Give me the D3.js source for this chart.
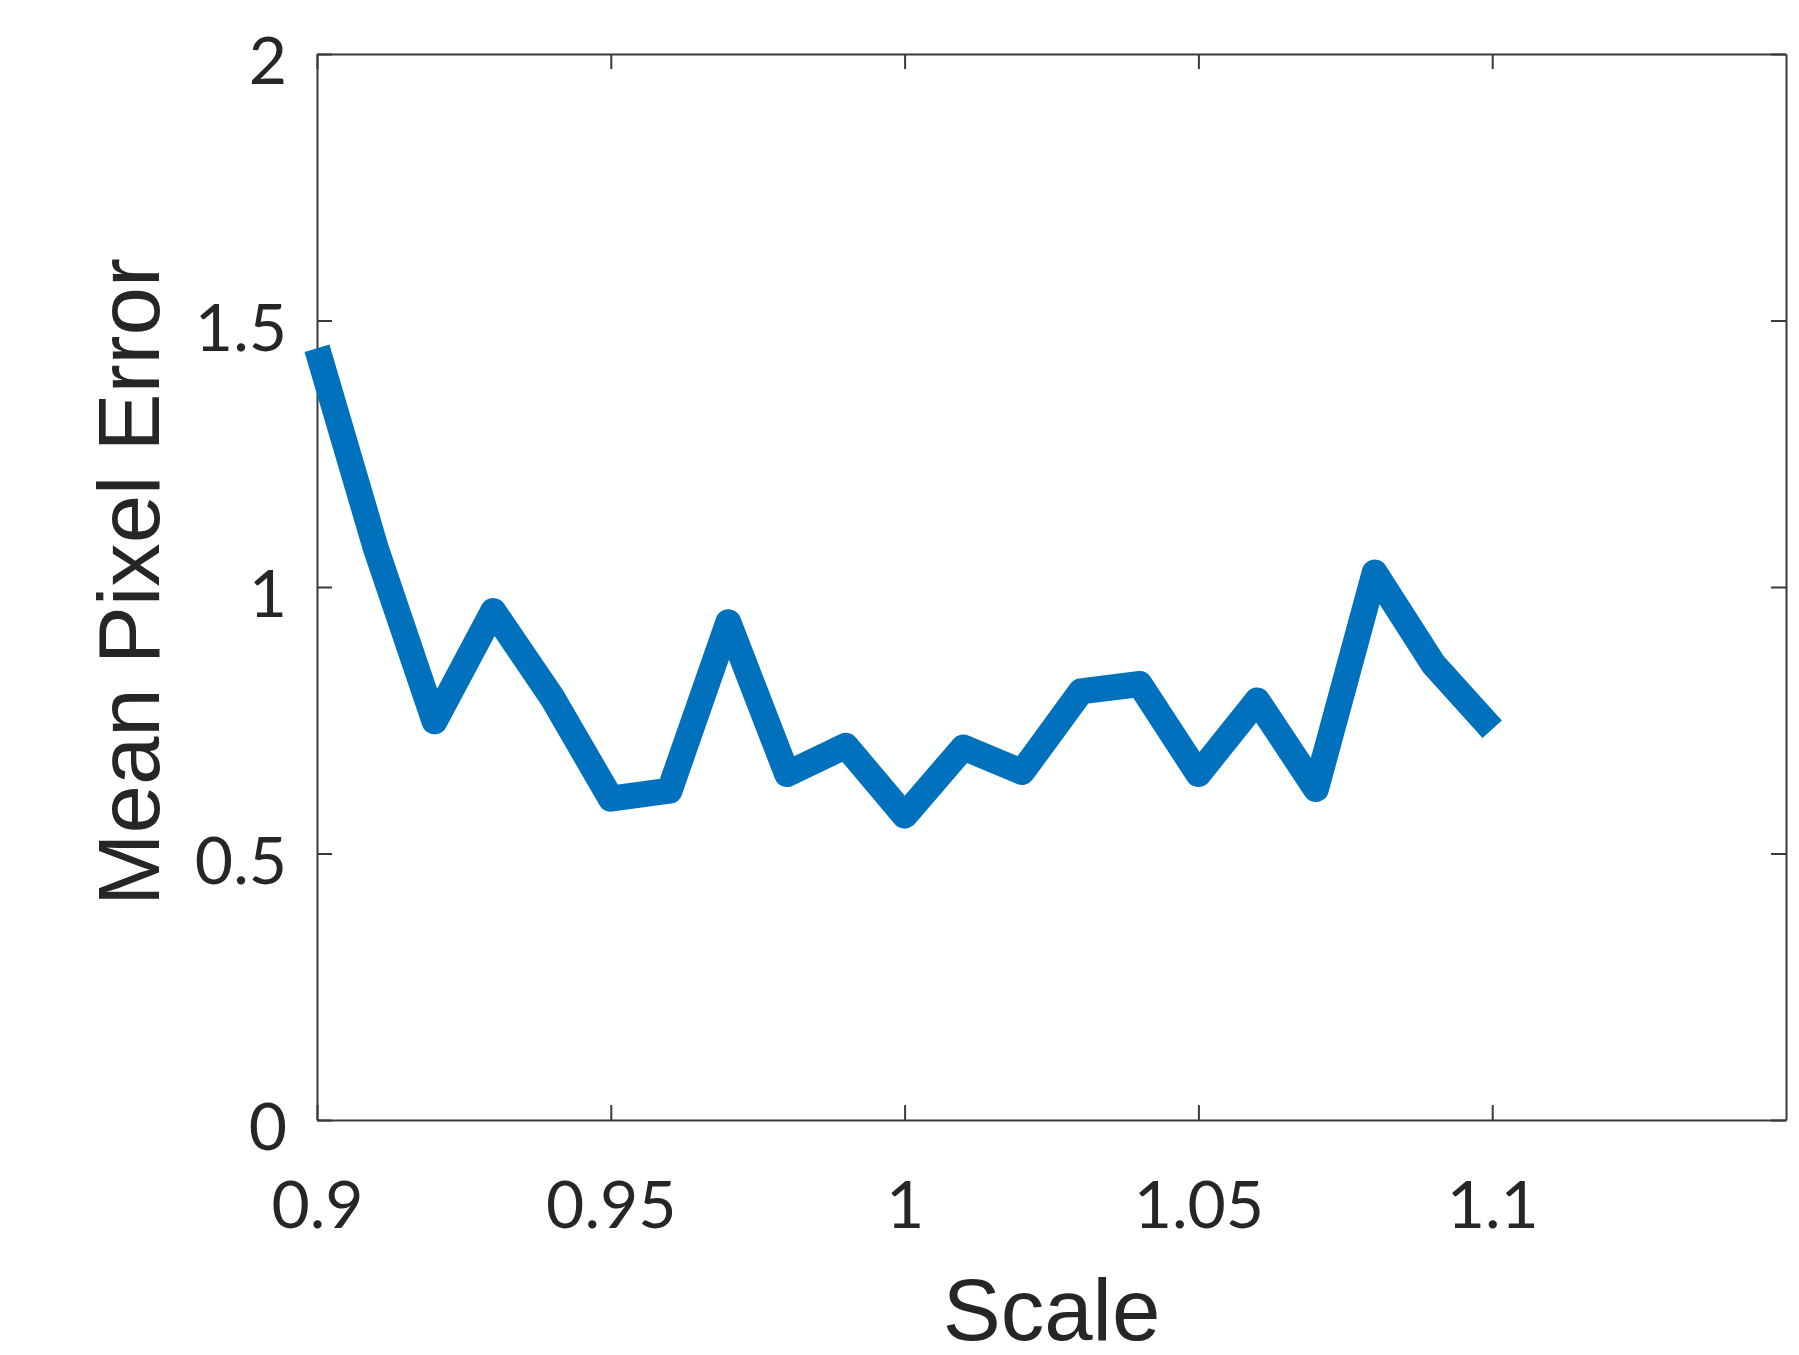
<!DOCTYPE html>
<html>
<head>
<meta charset="utf-8">
<script src="https://cdn.jsdelivr.net/npm/d3@7"></script>
<style>
  body { margin: 0; background: #fff; }
  .axis path, .axis line { stroke: #3a3a3a; stroke-width: 2; }
  .axis text { font-family: Lato, sans-serif; font-size: 66px; fill: #262626; }
  .label { font-family: "Liberation Sans", Arial, sans-serif; font-size: 87px; fill: #262626; }
</style>
</head>
<body>
<div id="chart"></div>
<script>
// scale factor vs mean pixel error
const scales = [0.90, 0.91, 0.92, 0.93, 0.94, 0.95, 0.96, 0.97, 0.98, 0.99, 1.00,
                1.01, 1.02, 1.03, 1.04, 1.05, 1.06, 1.07, 1.08, 1.09, 1.10];
const errors = [1.448, 1.073, 0.748, 0.955, 0.793, 0.603, 0.618, 0.934, 0.649, 0.702, 0.571,
                0.699, 0.653, 0.804, 0.818, 0.649, 0.787, 0.621, 1.027, 0.855, 0.733];

const xTicks = [0.9, 0.95, 1, 1.05, 1.1];
const yTicks = [0, 0.5, 1, 1.5, 2];
const xDomain = [0.9, 1.15];
const yDomain = [0, 2];

const width = 1799;
const height = 1355;
const margin = { top: 54, right: 13, bottom: 235, left: 317 };
const chartWidth = width - margin.left - margin.right;
const chartHeight = height - margin.top - margin.bottom;
const tickLen = 15;

const svg = d3.select("#chart")
  .append("svg")
  .attr("width", width)
  .attr("height", height);

const chart = svg.append("g")
  .attr("transform", `translate(${margin.left}, ${margin.top})`);

const xScale = d3.scaleLinear(xDomain, [0, chartWidth]);
const yScale = d3.scaleLinear(yDomain, [chartHeight, 0]);

const fmt = (d) => String(d);

// bottom axis with labels, ticks pointing in
chart.append("g")
  .attr("class", "axis")
  .attr("transform", `translate(0, ${chartHeight})`)
  .call(d3.axisBottom(xScale).tickValues(xTicks).tickFormat(fmt)
    .tickSizeInner(-tickLen).tickSizeOuter(0))
  .call((g) => g.selectAll("text").attr("y", 108).attr("dy", 0));

// left axis with labels
chart.append("g")
  .attr("class", "axis")
  .call(d3.axisLeft(yScale).tickValues(yTicks).tickFormat(fmt)
    .tickSizeInner(-tickLen).tickSizeOuter(0).tickPadding(30))
  .call((g) => g.selectAll("text").attr("dy", "0.45em"));

// top and right: ticks only
chart.append("g")
  .attr("class", "axis")
  .call(d3.axisTop(xScale).tickValues(xTicks).tickFormat("")
    .tickSizeInner(-tickLen).tickSizeOuter(0));

chart.append("g")
  .attr("class", "axis")
  .attr("transform", `translate(${chartWidth}, 0)`)
  .call(d3.axisRight(yScale).tickValues(yTicks).tickFormat("")
    .tickSizeInner(-tickLen).tickSizeOuter(0));

// data line
const line = d3.line()
  .x((d, i) => xScale(scales[i]))
  .y((d) => yScale(d));

chart.append("path")
  .datum(errors)
  .attr("d", line)
  .attr("fill", "none")
  .attr("stroke", "#0072BD")
  .attr("stroke-width", 26)
  .attr("stroke-linejoin", "round")
  .attr("stroke-linecap", "butt");

// axis titles
svg.append("text")
  .attr("class", "label")
  .attr("x", margin.left + chartWidth / 2)
  .attr("y", 1340)
  .attr("text-anchor", "middle")
  .text("Scale");

svg.append("text")
  .attr("class", "label")
  .attr("transform", `translate(159, ${margin.top + chartHeight / 2 - 5}) rotate(-90)`)
  .attr("text-anchor", "middle")
  .text("Mean Pixel Error");
</script>
</body>
</html>
